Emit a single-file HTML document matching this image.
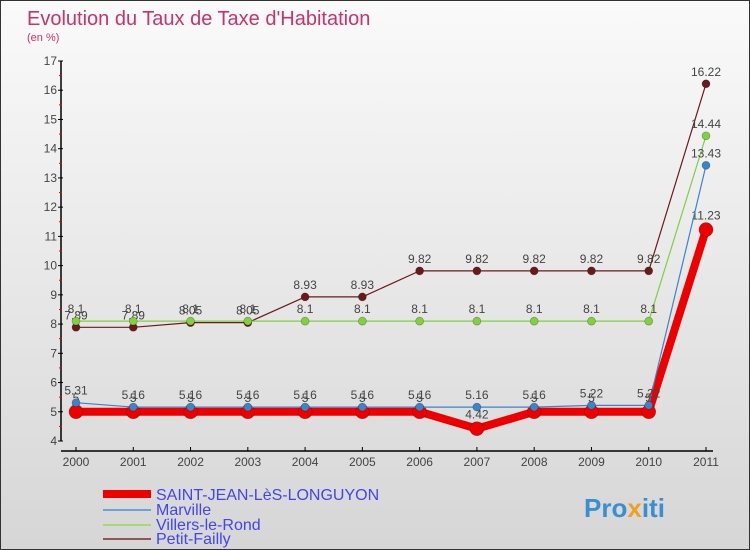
<!DOCTYPE html>
<html><head><meta charset="utf-8"><style>
body{margin:0}
#c{width:750px;height:550px;position:relative;overflow:hidden;box-sizing:border-box;border:1px solid #333;background:linear-gradient(#fafafa,#d6d6d6);font-family:"Liberation Sans",sans-serif}
</style></head><body>
<div id="c">
<svg width="750" height="550" id="svg">
<text x="26" y="24" font-size="20" fill="#c8336a" font-weight="300">Evolution du Taux de Taxe d'Habitation</text>
<text x="26" y="40" font-size="11" fill="#c8336a">(en %)</text>
<g id="axes"></g><g id="series"></g>
<g font-size="16">
<line x1="102" y1="493" x2="150" y2="493" stroke="#e00" stroke-width="8"/>
<text x="155" y="499" fill="#4444ee">SAINT-JEAN-LèS-LONGUYON</text>
<line x1="102" y1="509" x2="150" y2="509" stroke="#4a8fcf" stroke-width="1.5"/>
<text x="155" y="514" fill="#4444ee">Marville</text>
<line x1="102" y1="524" x2="150" y2="524" stroke="#8ddd55" stroke-width="1.5"/>
<text x="155" y="529" fill="#4444ee">Villers-le-Rond</text>
<line x1="102" y1="538" x2="150" y2="538" stroke="#7a2a2a" stroke-width="1.5"/>
<text x="155" y="543" fill="#4444ee">Petit-Failly</text>
</g>
<text x="583" y="516" font-size="26" font-weight="bold" fill="#3a8fd0">Pro<tspan fill="#f0a020">x</tspan>iti</text>
</svg></div>
<script>
const years=[2000,2001,2002,2003,2004,2005,2006,2007,2008,2009,2010,2011];
const yTicks=[4,5,6,7,8,9,10,11,12,13,14,15,16,17];
const saintJean=[5,5,5,5,5,5,5,4.42,5,5,5,11.23];
const marville=[5.31,5.16,5.16,5.16,5.16,5.16,5.16,5.16,5.16,5.22,5.22,13.43];
const villers=[8.1,8.1,8.1,8.1,8.1,8.1,8.1,8.1,8.1,8.1,8.1,14.44];
const petitFailly=[7.89,7.89,8.05,8.05,8.93,8.93,9.82,9.82,9.82,9.82,9.82,16.22];
const NS='http://www.w3.org/2000/svg';
const xS=i=>75+i*(630/11);
const yS=v=>440-(v-4)*(380/13);
function mk(p,t,a){const e=document.createElementNS(NS,t);for(const k in a)e.setAttribute(k,a[k]);p.appendChild(e);return e;}
const ax=document.getElementById('axes');
let l=mk(ax,'line',{x1:60,y1:60,x2:60,y2:440,stroke:'#000','stroke-width':1.5});


l=mk(ax,'line',{x1:60,y1:450,x2:712,y2:450,stroke:'#000','stroke-width':1.5});


yTicks.forEach(v=>{
 mk(ax,'line',{x1:57,y1:yS(v),x2:62,y2:yS(v),stroke:'#000'});
 if(v<17)mk(ax,'line',{x1:58,y1:yS(v+0.5),x2:61,y2:yS(v+0.5),stroke:'#e00'});
 const t=mk(ax,'text',{x:56,y:yS(v)+4,'text-anchor':'end','font-size':12,fill:'#444'});t.textContent=v;
 
 
});
years.forEach((y,i)=>{
 mk(ax,'line',{x1:xS(i),y1:446,x2:xS(i),y2:450,stroke:'#000'});
 const t=mk(ax,'text',{x:xS(i),y:465,'text-anchor':'middle','font-size':12,fill:'#444'});t.textContent=y;
 
 
});
const sg=document.getElementById('series');
function draw(vals,color,w,r,name,lab){
 const g=mk(sg,'g',{});
 
 
 mk(g,'polyline',{points:vals.map((v,i)=>xS(i)+','+yS(v)).join(' '),fill:'none',stroke:color,'stroke-width':w,'stroke-linejoin':'round'});
 vals.forEach((v,i)=>{
  const c=mk(g,'circle',{cx:xS(i),cy:yS(v),r:r,fill:color,stroke:'rgba(0,0,0,0.3)','stroke-width':0.7});
  
  
  const t=mk(g,'text',{x:xS(i),y:yS(v)-lab,'text-anchor':'middle','font-size':12,fill:'#444'});t.textContent=v;
 });
}
draw(petitFailly,'#6b1a1a',1.2,4,'petit-failly',8);
draw(villers,'#80d040',1.2,4,'villers-le-rond',8);
draw(saintJean,'#ee0000',8,7,'saint-jean',10);
draw(marville,'#3a85c8',1.2,4,'marville',8);
</script>
</body></html>
